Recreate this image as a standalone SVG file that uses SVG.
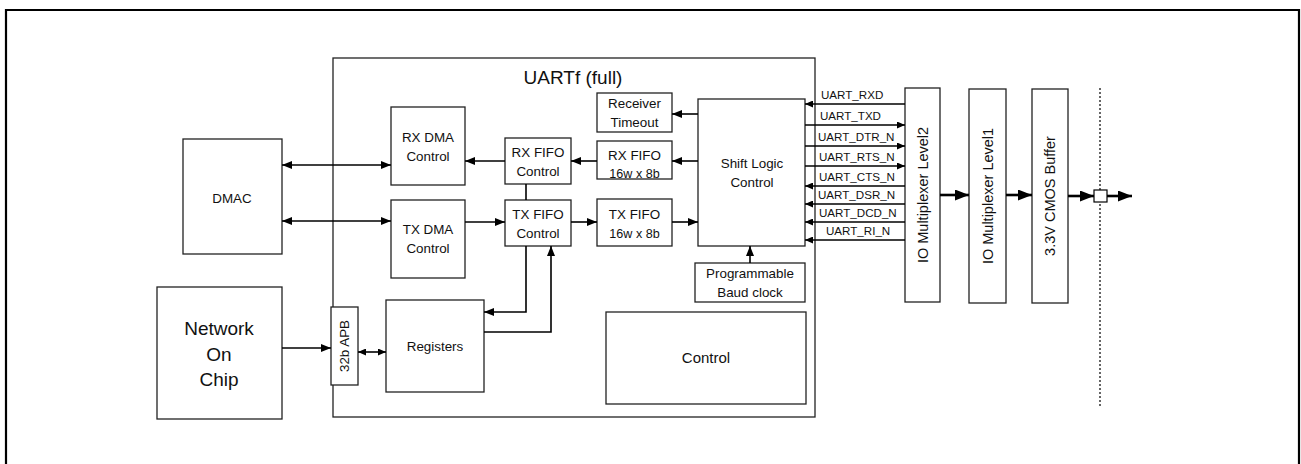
<svg xmlns="http://www.w3.org/2000/svg" width="1301" height="464" viewBox="0 0 1301 464">
  <style>
    .box { fill: #fff; stroke: #222; stroke-width: 1.3; }
    .frame { fill: none; stroke: #000; stroke-width: 2.2; }
    .ln { fill: none; stroke: #000; stroke-width: 1.6; }
    .thk { fill: none; stroke: #000; stroke-width: 2.6; }
    .t { font-family: "Liberation Sans", Arial, sans-serif; font-size: 13.4px; fill: #111; text-anchor: middle; }
    .s { font-size: 12.6px; }
    .m { font-size: 15px; }
    .v { font-size: 14.5px; }
    .big { font-size: 19px; }
    .sig { font-family: "Liberation Sans", Arial, sans-serif; font-size: 11.6px; fill: #111; }
  </style>
  <defs>
    <marker id="ah" markerUnits="userSpaceOnUse" markerWidth="10" markerHeight="8" refX="10" refY="4" orient="auto-start-reverse">
      <path d="M0,0 L10,4 L0,8 z" fill="#000"/>
    </marker>
    <marker id="ahs" markerUnits="userSpaceOnUse" markerWidth="8" markerHeight="7" refX="8" refY="3.5" orient="auto-start-reverse">
      <path d="M0,0 L8,3.5 L0,7 z" fill="#000"/>
    </marker>
    <marker id="ahb" markerUnits="userSpaceOnUse" markerWidth="14" markerHeight="11" refX="14" refY="5.5" orient="auto">
      <path d="M0,0 L14,5.5 L0,11 z" fill="#000"/>
    </marker>
  </defs>

  <!-- page frame -->
  <path class="frame" d="M6,470 V10 H1299 V470"/>

  <!-- UART block container -->
  <g id="uartf">
    <rect class="box" x="333" y="58" width="482" height="359"/>
    <text class="t big" x="573" y="84">UARTf (full)</text>
  </g>

  <g id="dmac">
    <rect class="box" x="183" y="139" width="99" height="115"/>
    <text class="t" x="232" y="203">DMAC</text>
  </g>

  <g id="noc">
    <rect class="box" x="157" y="287" width="125" height="132"/>
    <text class="t big" x="219" y="335">Network</text>
    <text class="t big" x="219" y="361">On</text>
    <text class="t big" x="219" y="386">Chip</text>
  </g>

  <g id="apb">
    <rect class="box" x="331" y="307" width="27" height="78"/>
    <text class="t" transform="translate(349,346) rotate(-90)">32b APB</text>
  </g>

  <g id="rx-dma">
    <rect class="box" x="391" y="107" width="74" height="78"/>
    <text class="t" x="428" y="142">RX DMA</text>
    <text class="t" x="428" y="161">Control</text>
  </g>

  <g id="tx-dma">
    <rect class="box" x="391" y="200" width="74" height="78"/>
    <text class="t" x="428" y="234">TX DMA</text>
    <text class="t" x="428" y="253">Control</text>
  </g>

  <g id="rx-fifo-ctrl">
    <rect class="box" x="505" y="138" width="66" height="46"/>
    <text class="t" x="538" y="157">RX FIFO</text>
    <text class="t" x="538" y="176">Control</text>
  </g>

  <g id="tx-fifo-ctrl">
    <rect class="box" x="505" y="200" width="66" height="46"/>
    <text class="t" x="538" y="219">TX FIFO</text>
    <text class="t" x="538" y="238">Control</text>
  </g>

  <g id="rx-timeout">
    <rect class="box" x="597" y="93" width="75" height="39"/>
    <text class="t" x="634.5" y="108">Receiver</text>
    <text class="t" x="634.5" y="127">Timeout</text>
  </g>

  <g id="rx-fifo">
    <rect class="box" x="597" y="141" width="75" height="38"/>
    <text class="t" x="634.5" y="160">RX FIFO</text>
    <text class="t s" x="634.5" y="178">16w x 8b</text>
  </g>

  <g id="tx-fifo">
    <rect class="box" x="597" y="199" width="75" height="47"/>
    <text class="t" x="634.5" y="219">TX FIFO</text>
    <text class="t s" x="634.5" y="238">16w x 8b</text>
  </g>

  <g id="shift-logic">
    <rect class="box" x="698" y="99" width="107" height="147"/>
    <text class="t" x="752" y="168">Shift Logic</text>
    <text class="t" x="752" y="187">Control</text>
  </g>

  <g id="baud-clock">
    <rect class="box" x="695" y="263" width="110" height="39"/>
    <text class="t" x="750" y="278">Programmable</text>
    <text class="t" x="750" y="297">Baud clock</text>
  </g>

  <g id="control">
    <rect class="box" x="606" y="312" width="200" height="92"/>
    <text class="t m" x="706" y="363">Control</text>
  </g>

  <g id="registers">
    <rect class="box" x="386" y="300" width="98" height="92"/>
    <text class="t" x="435" y="351">Registers</text>
  </g>

  <g id="io-mux-2">
    <rect class="box" x="905" y="88" width="35" height="214"/>
    <text class="t v" transform="translate(928,195) rotate(-90)">IO Multiplexer Level2</text>
  </g>

  <g id="io-mux-1">
    <rect class="box" x="969" y="89" width="37" height="214"/>
    <text class="t v" transform="translate(993,196) rotate(-90)">IO Multiplexer Level1</text>
  </g>

  <g id="cmos-buffer">
    <rect class="box" x="1032" y="89" width="36" height="214"/>
    <text class="t v" transform="translate(1055,196) rotate(-90)">3.3V CMOS Buffer</text>
  </g>

  <!-- connectors -->
  <g id="connectors">
    <!-- DMA interface -->
    <line class="ln" x1="282" y1="165" x2="391" y2="165" marker-start="url(#ah)" marker-end="url(#ah)"/>
    <line class="ln" x1="282" y1="221" x2="391" y2="221" marker-start="url(#ah)" marker-end="url(#ah)"/>

    <!-- bus side -->
    <line class="ln" x1="282" y1="348" x2="331" y2="348" marker-end="url(#ah)"/>
    <line class="ln" x1="358" y1="352" x2="386" y2="352" marker-start="url(#ahs)" marker-end="url(#ahs)"/>

    <!-- receive path -->
    <line class="ln" x1="698" y1="114" x2="672" y2="114" marker-end="url(#ah)"/>
    <line class="ln" x1="698" y1="161" x2="672" y2="161" marker-end="url(#ah)"/>
    <line class="ln" x1="597" y1="161" x2="571" y2="161" marker-end="url(#ah)"/>
    <line class="ln" x1="505" y1="161" x2="465" y2="161" marker-end="url(#ah)"/>

    <!-- transmit path -->
    <line class="ln" x1="465" y1="222" x2="505" y2="222" marker-end="url(#ah)"/>
    <line class="ln" x1="571" y1="222" x2="597" y2="222" marker-end="url(#ah)"/>
    <line class="ln" x1="672" y1="222" x2="698" y2="222" marker-end="url(#ah)"/>

    <!-- FIFO control link -->
    <line class="ln" x1="526" y1="184" x2="526" y2="200"/>

    <!-- register access -->
    <polyline class="ln" points="526,246 526,312 484,312" marker-end="url(#ah)"/>
    <polyline class="ln" points="484,332 551,332 551,246" marker-end="url(#ah)"/>

    <!-- baud clock -->
    <line class="ln" x1="750" y1="263" x2="750" y2="246" marker-end="url(#ah)"/>

    <!-- UART pins -->
    <line class="ln" x1="905" y1="104" x2="805" y2="104" marker-end="url(#ahs)"/>
    <line class="ln" x1="805" y1="125" x2="905" y2="125" marker-end="url(#ahs)"/>
    <line class="ln" x1="805" y1="146" x2="905" y2="146" marker-end="url(#ahs)"/>
    <line class="ln" x1="805" y1="166" x2="905" y2="166" marker-end="url(#ahs)"/>
    <line class="ln" x1="905" y1="186" x2="805" y2="186" marker-end="url(#ahs)"/>
    <line class="ln" x1="905" y1="204" x2="805" y2="204" marker-end="url(#ahs)"/>
    <line class="ln" x1="905" y1="222" x2="805" y2="222" marker-end="url(#ahs)"/>
    <line class="ln" x1="905" y1="240" x2="805" y2="240" marker-end="url(#ahs)"/>
    <text class="sig" x="821" y="99">UART_RXD</text>
    <text class="sig" x="820" y="120">UART_TXD</text>
    <text class="sig" x="818" y="141">UART_DTR_N</text>
    <text class="sig" x="819" y="161">UART_RTS_N</text>
    <text class="sig" x="819" y="181">UART_CTS_N</text>
    <text class="sig" x="818" y="199">UART_DSR_N</text>
    <text class="sig" x="819" y="217">UART_DCD_N</text>
    <text class="sig" x="826" y="235">UART_RI_N</text>

    <!-- pad chain -->
    <line class="thk" x1="940" y1="195" x2="969" y2="195" marker-end="url(#ahb)"/>
    <line class="thk" x1="1006" y1="195" x2="1032" y2="195" marker-end="url(#ahb)"/>
    <line class="thk" x1="1068" y1="196" x2="1094" y2="196" marker-end="url(#ahb)"/>
    <line x1="1100" y1="88" x2="1100" y2="406" stroke="#000" stroke-width="1.2" stroke-dasharray="2,2"/>
    <rect x="1094" y="190" width="13" height="12" fill="#fff" stroke="#000" stroke-width="1.2"/>
    <line class="thk" x1="1107" y1="196" x2="1132" y2="196" marker-end="url(#ahb)"/>
  </g>
</svg>
